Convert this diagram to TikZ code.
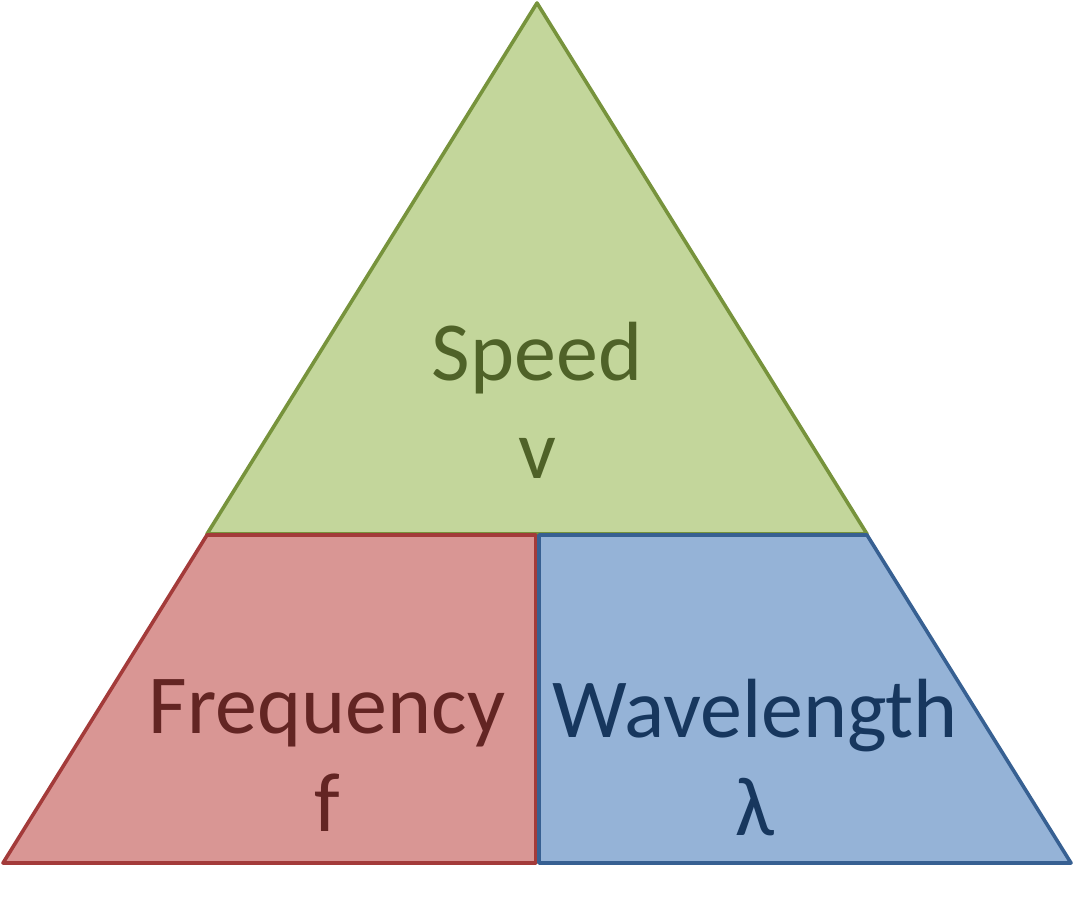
\documentclass[tikz,border=0pt]{standalone}
\usepackage{fontspec}
\setmainfont{Carlito}
\usetikzlibrary{positioning}
\definecolor{speedfill}{HTML}{C3D69B}
\definecolor{speedline}{HTML}{77933C}
\definecolor{speedtext}{HTML}{4F6228}
\definecolor{freqfill}{HTML}{D99694}
\definecolor{freqline}{HTML}{A33B3A}
\definecolor{freqtext}{HTML}{632523}
\definecolor{wavefill}{HTML}{95B3D7}
\definecolor{waveline}{HTML}{376092}
\definecolor{wavetext}{HTML}{17375E}

\begin{document}
\begin{tikzpicture}[x=0.5pt, y=-0.5pt,
		part/.style={line width=1.8pt, line join=round},
		parttext/.style={align=center, anchor=base, inner sep=0pt, font=\fontsize{42}{49}\selectfont}]
		\useasboundingbox (0,0) rectangle (1074,909);
		
		% the three parts
		\draw [part, draw=speedline, fill=speedfill] (537,3) -- (867,534) -- (207,534) -- cycle;
		\draw [part, draw=freqline, fill=freqfill] (207,535) -- (536,535) -- (536,863) -- (3,863) -- cycle;
		\draw [part, draw=waveline, fill=wavefill] (539,535) -- (867,535) -- (1071,863) -- (539,863) -- cycle;
		
		\node[parttext, text=speedtext] (speed) at (537,478) {Speed\\v};
		\node[parttext, text=freqtext] (freq) at (327,831) {Frequency\\f};
		\node[parttext, text=wavetext] (wave) at (755,835) {Wavelength\\λ};
		
\end{tikzpicture}
\end{document}
